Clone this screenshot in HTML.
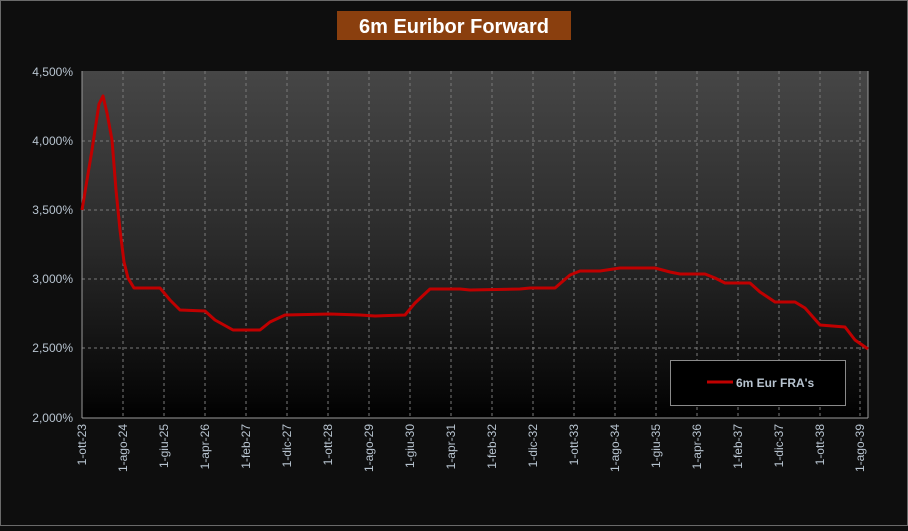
<!DOCTYPE html>
<html><head><meta charset="utf-8"><style>
body{margin:0;background:#0e0e0e;overflow:hidden;}
</style></head><body>
<svg width="908" height="526" xmlns="http://www.w3.org/2000/svg" font-family="Liberation Sans, sans-serif">
<defs><linearGradient id="g" x1="0" y1="0" x2="0" y2="1">
<stop offset="0" stop-color="#464646"/><stop offset="0.5" stop-color="#2a2a2a"/><stop offset="0.95" stop-color="#060606"/><stop offset="1" stop-color="#000"/></linearGradient></defs>
<rect x="0.5" y="0.5" width="907" height="525" fill="#0e0e0e" stroke="#6a6a6a"/>
<rect x="337" y="11" width="234" height="29" fill="#8a3f0e"/>
<text x="454" y="33" text-anchor="middle" font-size="20" font-weight="bold" fill="#fff">6m Euribor Forward</text>
<rect x="82" y="71" width="786" height="347" fill="url(#g)"/>
<g stroke="#7a7a7a" stroke-dasharray="3,3" stroke-width="1">
<line x1="82" y1="141" x2="868" y2="141"/><line x1="82" y1="210" x2="868" y2="210"/>
<line x1="82" y1="279" x2="868" y2="279"/><line x1="82" y1="348" x2="868" y2="348"/>
<line x1="123" y1="71" x2="123" y2="418"/><line x1="164" y1="71" x2="164" y2="418"/>
<line x1="205" y1="71" x2="205" y2="418"/><line x1="246" y1="71" x2="246" y2="418"/>
<line x1="287" y1="71" x2="287" y2="418"/><line x1="328" y1="71" x2="328" y2="418"/>
<line x1="369" y1="71" x2="369" y2="418"/><line x1="410" y1="71" x2="410" y2="418"/>
<line x1="451" y1="71" x2="451" y2="418"/><line x1="492" y1="71" x2="492" y2="418"/>
<line x1="533" y1="71" x2="533" y2="418"/><line x1="574" y1="71" x2="574" y2="418"/>
<line x1="615" y1="71" x2="615" y2="418"/><line x1="656" y1="71" x2="656" y2="418"/>
<line x1="697" y1="71" x2="697" y2="418"/><line x1="738" y1="71" x2="738" y2="418"/>
<line x1="779" y1="71" x2="779" y2="418"/><line x1="820" y1="71" x2="820" y2="418"/>
<line x1="860" y1="71" x2="860" y2="418"/>
</g>
<g stroke="#9a9a9a" stroke-width="1">
<line x1="82" y1="71" x2="82" y2="418"/><line x1="82" y1="418" x2="868" y2="418"/>
<line x1="868" y1="71" x2="868" y2="418"/>
</g>
<g fill="#b8c4d0" font-size="12" text-anchor="end">
<text x="73" y="76">4,500%</text><text x="73" y="145">4,000%</text><text x="73" y="214">3,500%</text>
<text x="73" y="283">3,000%</text><text x="73" y="352">2,500%</text><text x="73" y="422">2,000%</text>
</g>
<g fill="#b8c4d0" font-size="12" text-anchor="end">
<text transform="translate(86,424) rotate(-90)">1-ott-23</text>
<text transform="translate(127,424) rotate(-90)">1-ago-24</text>
<text transform="translate(168,424) rotate(-90)">1-giu-25</text>
<text transform="translate(209,424) rotate(-90)">1-apr-26</text>
<text transform="translate(250,424) rotate(-90)">1-feb-27</text>
<text transform="translate(291,424) rotate(-90)">1-dic-27</text>
<text transform="translate(332,424) rotate(-90)">1-ott-28</text>
<text transform="translate(373,424) rotate(-90)">1-ago-29</text>
<text transform="translate(414,424) rotate(-90)">1-giu-30</text>
<text transform="translate(455,424) rotate(-90)">1-apr-31</text>
<text transform="translate(496,424) rotate(-90)">1-feb-32</text>
<text transform="translate(537,424) rotate(-90)">1-dic-32</text>
<text transform="translate(578,424) rotate(-90)">1-ott-33</text>
<text transform="translate(619,424) rotate(-90)">1-ago-34</text>
<text transform="translate(660,424) rotate(-90)">1-giu-35</text>
<text transform="translate(701,424) rotate(-90)">1-apr-36</text>
<text transform="translate(742,424) rotate(-90)">1-feb-37</text>
<text transform="translate(783,424) rotate(-90)">1-dic-37</text>
<text transform="translate(824,424) rotate(-90)">1-ott-38</text>
<text transform="translate(864,424) rotate(-90)">1-ago-39</text>
</g>
<polyline fill="none" stroke="#c00000" stroke-width="3" stroke-linejoin="round" points="82,210 92,150 99,104 103,96 107,113 112,140 116,190 120,230 124,262 128,278 134,288 160,288 170,300 180,310 205,311 215,320 233,330 260,330 270,322 285,315 330,314 360,315 375,316 405,315 415,303 430,289 460,289 470,290 520,289 530,288 555,288 570,275 580,271 600,271 620,268 655,268 670,272 680,274 705,274 715,278 725,283 750,283 760,292 775,302 795,302 805,308 820,325 845,327 855,340 868,349"/>
<rect x="670.5" y="360.5" width="175" height="45" fill="#000" stroke="#8a8a8a"/>
<line x1="707" y1="382" x2="733" y2="382" stroke="#c00000" stroke-width="3"/>
<text x="736" y="387" font-size="12" font-weight="bold" fill="#b8c4d0">6m Eur FRA's</text>
</svg>
</body></html>
